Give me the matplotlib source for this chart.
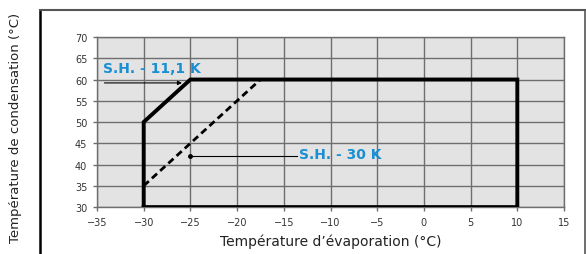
import matplotlib
matplotlib.use("Agg")
import matplotlib.pyplot as plt
from matplotlib.lines import Line2D

# enveloppe de fonctionnement (S.H. 11,1 K)
env_x = [-30, -30, -25, 10, 10, -30]
env_y = [30, 50, 60, 60, 30, 30]
# limite S.H. 30 K
sh30_x = [-30, -17.5]
sh30_y = [35, 60]

x_ticks = [-35, -30, -25, -20, -15, -10, -5, 0, 5, 10, 15]
y_ticks = [30, 35, 40, 45, 50, 55, 60, 65, 70]

blue = "#1a8fd3"

fig = plt.figure(figsize=(5.86, 2.55), dpi=100)
ax = fig.add_axes([0.1655, 0.184, 0.797, 0.667])
ax.set_facecolor("#e3e3e3")

ax.plot(env_x, env_y, color="black", lw=2.8, solid_joinstyle="miter", zorder=3)
ax.plot(sh30_x, sh30_y, color="black", lw=2, ls=(0, (2.5, 1.5)), zorder=3)

ax.set_xlim(-35, 15)
ax.set_ylim(30, 70)
ax.set_xticks(x_ticks)
ax.set_yticks(y_ticks)
ax.grid(True, color="#6e6e6e", lw=1)
ax.set_axisbelow(True)
for s in ax.spines.values():
    s.set_color("#6e6e6e")
    s.set_linewidth(1)
ax.tick_params(labelsize=7, colors="#6e6e6e", labelcolor="#333333", length=3, width=1, pad=4)

# annotations
ax.annotate("", xy=(-25.6, 59.2), xytext=(-34.5, 59.2),
            arrowprops=dict(arrowstyle="-|>", color="black", lw=0.8, mutation_scale=6))
ax.text(-34.4, 62.6, "S.H. - 11,1 K", color=blue, fontsize=10, fontweight="bold", va="center")
ax.plot([-25, -13.6], [42, 42], color="black", lw=0.8)
ax.plot([-25], [42], "o", color="black", ms=2.5)
ax.text(-13.4, 42.5, "S.H. - 30 K", color=blue, fontsize=10, fontweight="bold", va="center")

ax.set_xlabel("Température d’évaporation (°C)", fontsize=10, color="#222222", labelpad=5)
fig.text(0.026, 0.5, "Température de condensation (°C)", rotation=90, fontsize=9.5,
         color="#222222", ha="center", va="center")

# cadre extérieur
fig.add_artist(Line2D([0.068, 0.068], [0.0, 0.957], color="black", lw=1.8, transform=fig.transFigure))
fig.add_artist(Line2D([0.068, 0.998], [0.957, 0.957], color="#555555", lw=1.5, transform=fig.transFigure))
fig.add_artist(Line2D([0.998, 0.998], [0.0, 0.957], color="#555555", lw=1.2, transform=fig.transFigure))

fig.savefig("out.png", dpi=100)
